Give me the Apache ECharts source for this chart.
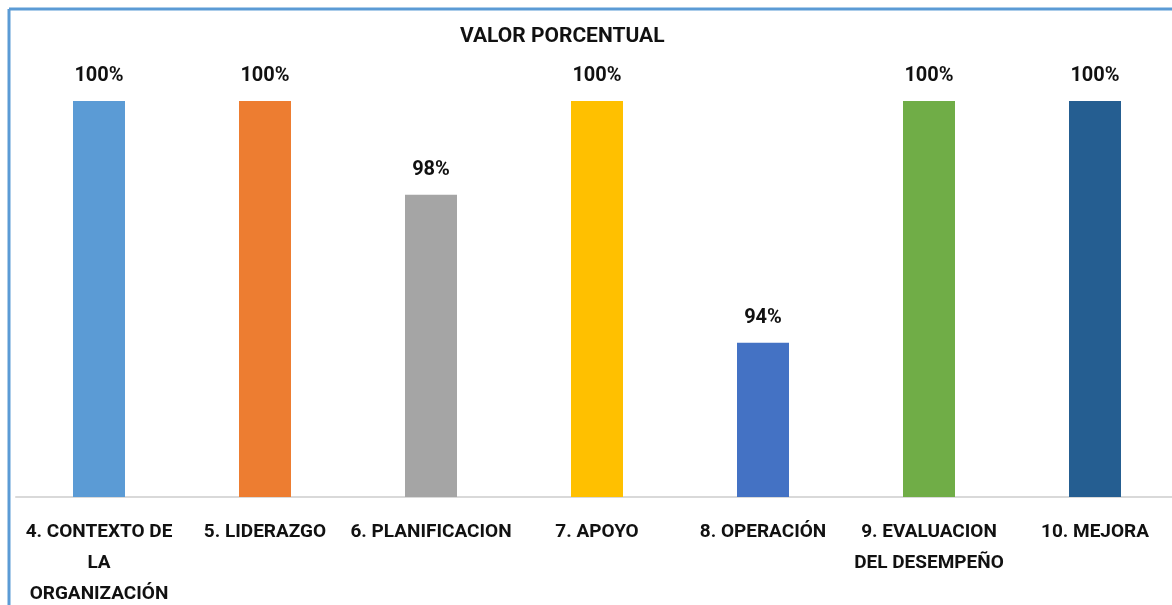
<!DOCTYPE html>
<html>
<head>
<meta charset="utf-8">
<script src="https://cdn.jsdelivr.net/npm/echarts@6/dist/echarts.min.js"></script>
<style>
  html, body { margin: 0; padding: 0; background: #fff; }
  #chart { width: 1172px; height: 605px; }
</style>
</head>
<body>
<div id="chart"></div>
<script>
const categories = ['4. CONTEXTO DE\nLA\nORGANIZACIÓN', '5. LIDERAZGO', '6. PLANIFICACION', '7. APOYO', '8. OPERACIÓN', '9. EVALUACION\nDEL DESEMPEÑO', '10. MEJORA'];
const values = [100, 100, 97.75, 100, 94.2, 100, 100];
const labels = ['100%', '100%', '98%', '100%', '94%', '100%', '100%'];
const colors = ['#5B9BD5', '#ED7D31', '#A5A5A5', '#FFC000', '#4472C4', '#70AD47', '#255E91'];

const chart = echarts.init(document.getElementById('chart'));
const font = 'Roboto, sans-serif';

let option = {
  animation: false,
  title: {
    text: 'VALOR PORCENTUAL',
    left: 455,
    top: 21,
    textStyle: { fontFamily: font, fontSize: 21, fontWeight: 'bold', color: '#111' }
  },
  graphic: [
    { type: 'line', shape: { x1: 9, y1: 9, x2: 1172, y2: 9 }, style: { stroke: '#5B9BD5', lineWidth: 3 } },
    { type: 'line', shape: { x1: 9, y1: 9, x2: 9, y2: 605 }, style: { stroke: '#5B9BD5', lineWidth: 3 } }
  ],
  grid: { left: 16, width: 1162, top: 101, bottom: 108, outerBoundsMode: 'none' },
  xAxis: {
    type: 'category',
    data: categories,
    axisLine: { lineStyle: { color: '#d9d9d9', width: 2 } },
    axisTick: { show: false },
    axisLabel: {
      interval: 0,
      margin: 20,
      fontFamily: font,
      fontSize: 19,
      fontWeight: 'bold',
      color: '#111',
      lineHeight: 31
    }
  },
  yAxis: { type: 'value', min: 90.5, max: 100, show: false },
  series: [{
    type: 'bar',
    barWidth: 52,
    data: values.map((v, i) => ({ value: v, itemStyle: { color: colors[i] } })),
    label: {
      show: true,
      position: 'top',
      distance: 15,
      fontFamily: font,
      fontSize: 20,
      fontWeight: 'bold',
      color: '#111',
      formatter: p => labels[p.dataIndex]
    }
  }]
};
chart.setOption(option);
</script>
</body>
</html>
